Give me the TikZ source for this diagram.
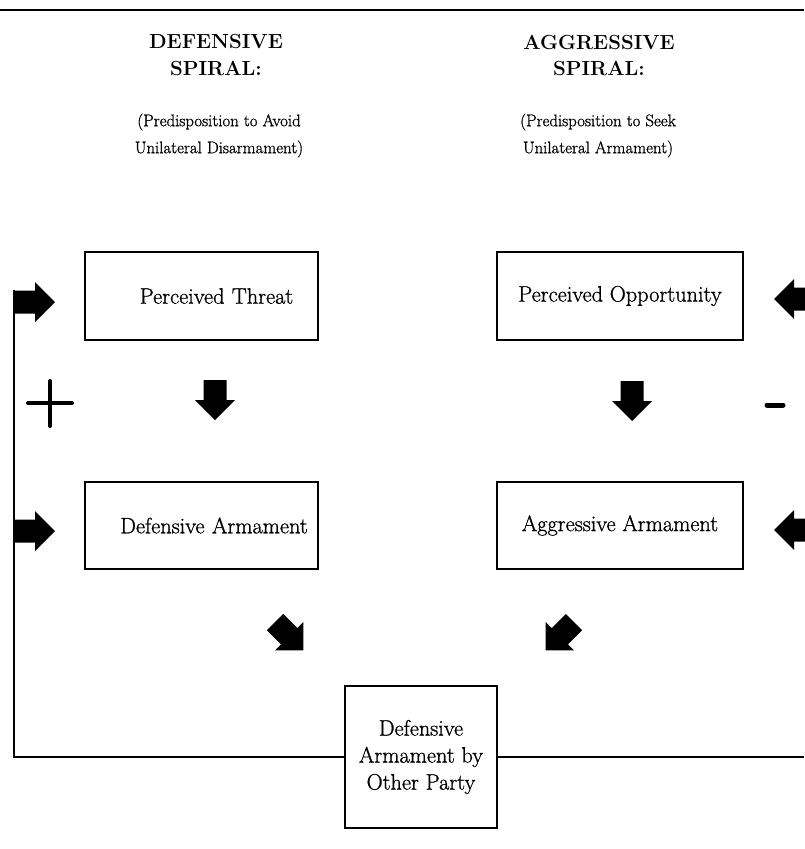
\documentclass[tikz,border=0pt]{standalone}
\usepackage{fontspec}
\newfontfamily\medfont{Latin Modern Roman}[FakeBold=1]
\begin{document}
\begin{tikzpicture}[x=1pt,y=1pt,
  box/.style={draw,line width=1.5pt,inner sep=0pt,align=center,font=\medfont\fontsize{22.3}{27}\selectfont},
  head/.style={align=center,font=\bfseries\fontsize{20.4}{26}\selectfont},
  sub/.style={align=center,font=\medfont\fontsize{16.8}{27}\selectfont},
  link/.style={line width=1.5pt},
  blockarrow/.pic={\fill (0,-11.5) -- (20,-11.5) -- (20,-20) -- (40,0) -- (20,20) -- (20,11.5) -- (0,11.5) -- cycle;}
]
\useasboundingbox (0,0) rectangle (804,-849);
% top rule
\draw[line width=2.5pt] (0,-10) coordinate (ruleL) -- (804,-10) coordinate (ruleR);
% headings
\node[head] (hdef) at (216,-55) {DEFENSIVE\\SPIRAL:};
\node[head] (hagg) at (599,-55) {AGGRESSIVE\\SPIRAL:};
\node[sub] (sdef) at (219,-135.5) {(Predisposition to Avoid\\Unilateral Disarmament)};
\node[sub] (sagg) at (598,-135.5) {(Predisposition to Seek\\Unilateral Armament)};
% boxes
\node[box,minimum width=233pt,minimum height=88pt,text width=218pt] (pt) at (201.5,-296) {\hspace*{30pt}Perceived Threat};
\node[box,minimum width=246pt,minimum height=88pt] (po) at (620,-296) {Perceived Opportunity};
\node[box,minimum width=233pt,minimum height=87pt,text width=218pt] (da) at (201.5,-525.5) {\hspace*{25pt}Defensive Armament};
\node[box,minimum width=246pt,minimum height=87pt] (aa) at (620,-525.5) {Aggressive Armament};
\node[box,minimum width=152pt,minimum height=142pt] (op) at (421,-757) {Defensive\\Armament by\\Other Party};
% feedback lines
\coordinate (lc) at (14,-757);
\coordinate (lt) at (14,-290);
\coordinate (rc) at (804,-757);
\draw[link] (op.west) -- (lc) -- (lt);
\draw[link] (op.east) -- (rc);
% block arrows
\pic at (15,-302) {blockarrow};
\pic at (15,-531) {blockarrow};
\pic[rotate=180] at (814,-299) {blockarrow};
\pic[rotate=180] at (814,-530) {blockarrow};
\pic[rotate=-90] at (215,-380) {blockarrow};
\pic[rotate=-90] at (632,-381) {blockarrow};
\pic[rotate=-45] at (275,-622) {blockarrow};
\pic[rotate=-135] at (574,-622) {blockarrow};
% signs
\draw[line width=4pt,line cap=round] (28,-403) -- (72,-403) (50,-381) -- (50,-426);
\draw[line width=5pt,line cap=round] (767,-405) -- (783,-405);
\end{tikzpicture}
\end{document}
